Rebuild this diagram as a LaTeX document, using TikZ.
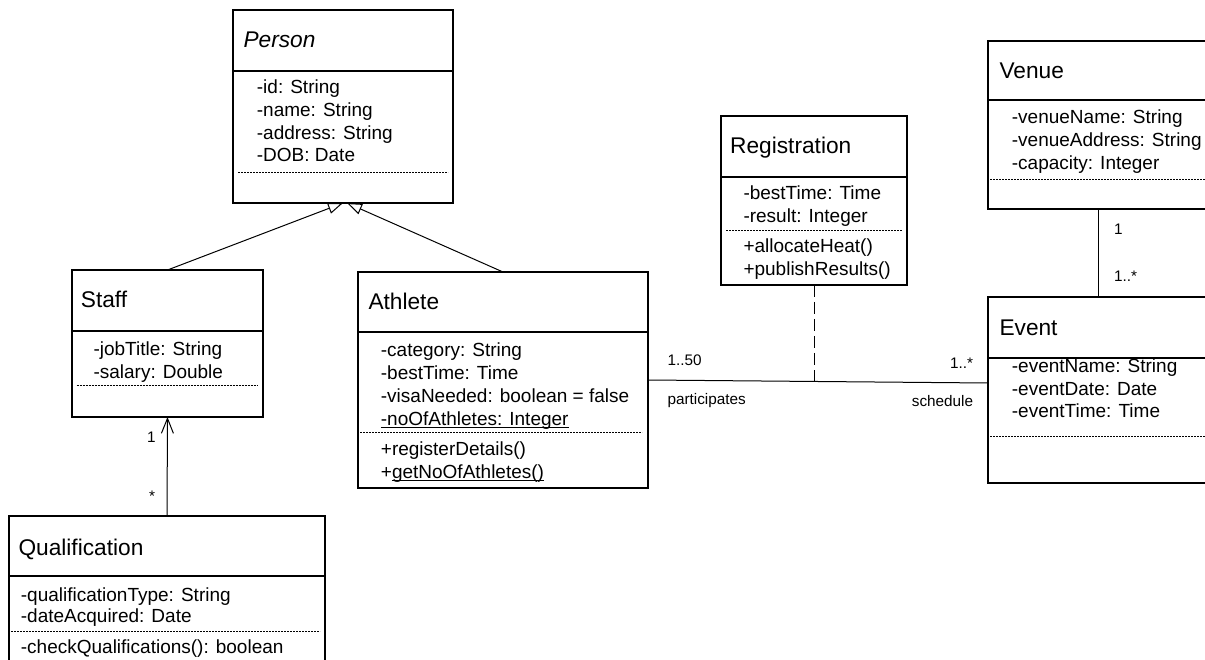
\documentclass[tikz,border=0pt]{standalone}
\usepackage{fontspec}
\setmainfont{Liberation Sans}
\usepackage{tikz}
\usetikzlibrary{positioning, arrows.meta}
\newcommand{\umlclass}[6]{
\node[classhead, minimum width=#4pt, minimum height=#5pt] (#1) at (#2,#3) {};
\node[classbody, minimum width=#4pt, minimum height=#6pt, below=0pt of #1] (#1-b) {};
}
\newcommand{\statictext}[1]{\underline{\smash{#1}}}

\begin{document}
\begin{tikzpicture}[x=1pt, y=-1pt,
    classhead/.style={draw, line width=1.3pt, rectangle, inner sep=0pt, outer sep=0pt, anchor=north west},
    classbody/.style={draw, line width=1.3pt, rectangle, inner sep=0pt, outer sep=0pt},
    ctitle/.style={inner sep=0pt, anchor=base west, font=\fontsize{22.7}{27}\selectfont},
    attr/.style={inner sep=0pt, anchor=base west, font=\fontsize{19}{23}\selectfont},
    mult/.style={inner sep=0pt, font=\fontsize{15.3}{18}\selectfont},
    sep/.style={line width=0.8pt, dash pattern=on 2pt off 1pt},
    gen/.style={line width=1pt, -{Triangle[open, length=15pt, width=11pt]}},
    nav/.style={line width=1pt, -{Straight Barb[length=15pt, width=12pt]}},
    regdash/.style={line width=1pt, dash pattern=on 12pt off 5pt}]
    \path[use as bounding box, fill=white] (0,0) rectangle (1205,660);
    \clip (0,0) rectangle (1205,660);

    \umlclass{person}{233}{10}{220}{61}{132}
    \umlclass{staff}{72}{270}{191}{61}{86}
    \umlclass{qual}{9}{516}{316}{60}{124}
    \umlclass{athlete}{358}{272}{290}{60}{156}
    \umlclass{reg}{721}{116}{186}{61}{108}
    \umlclass{venue}{988}{41}{220}{59}{109}
    \umlclass{event}{988}{297}{220}{61}{125}

    \node[ctitle] (person-t) at (243.3,47.5) {\itshape Person};
    \foreach \t [count=\i] in {-id: String, -name: String, -address: String, -DOB: Date}
        \node[attr] (person-a\i) at (256.7,{94+22.6*(\i-1)}) {\t};
    \draw[sep] (238,172) -- (448,172);

    \node[ctitle] (staff-t) at (80.7,308) {Staff};
    \foreach \t [count=\i] in {-jobTitle: String, -salary: Double}
        \node[attr] (staff-a\i) at (93.3,{355.5+22.5*(\i-1)}) {\t};
    \draw[sep] (76.7,385) -- (258,385);

    \node[ctitle] (qual-t) at (18.3,555) {Qualification};
    \foreach \t [count=\i] in {-qualificationType: String, -dateAcquired: Date}
        \node[attr] (qual-a\i) at (20.7,{601.7+21*(\i-1)}) {\t};
    \draw[sep] (8,631) -- (320,631);
    \node[attr] (qual-m1) at (20.7,653.3) {-checkQualifications(): boolean};

    \node[ctitle] (athlete-t) at (368.3,310) {Athlete};
    \foreach \t [count=\i] in {-category: String, -bestTime: Time, -visaNeeded: boolean = false, \statictext{-noOfAthletes: Integer}}
        \node[attr] (athlete-a\i) at (380.7,{356+23.3*(\i-1)}) {\t};
    \draw[sep] (360,432.7) -- (642,432.7);
    \foreach \t [count=\i] in {+registerDetails(), +\statictext{getNoOfAthletes()}}
        \node[attr] (athlete-m\i) at (380.7,{455+23.3*(\i-1)}) {\t};

    \node[ctitle] (reg-t) at (730,154) {Registration};
    \foreach \t [count=\i] in {-bestTime: Time, -result: Integer}
        \node[attr] (reg-a\i) at (743.3,{200+22.7*(\i-1)}) {\t};
    \draw[sep] (726,230.7) -- (902,230.7);
    \foreach \t [count=\i] in {+allocateHeat(), +publishResults()}
        \node[attr] (reg-m\i) at (743.3,{252.7+23.3*(\i-1)}) {\t};

    \node[ctitle] (venue-t) at (999.3,78.3) {Venue};
    \foreach \t [count=\i] in {-venueName: String, -venueAddress: String, -capacity: Integer}
        \node[attr] (venue-a\i) at (1011.7,{124+22.7*(\i-1)}) {\t};
    \draw[sep] (990,179.3) -- (1205,179.3);

    \node[ctitle] (event-t) at (999.3,336) {Event};
    \foreach \t [count=\i] in {-eventName: String, -eventDate: Date, -eventTime: Time}
        \node[attr] (event-a\i) at (1011.7,{372.7+22.3*(\i-1)}) {\t};
    \draw[sep] (990,436) -- (1205,436);

    \draw[gen] (staff.north) -- (person-b.south);
    \draw[gen] (athlete.north) -- ([xshift=4pt]person-b.south);

    \draw[nav] (qual.north) -- (staff-b.south);
    \node[mult, anchor=base west] (m-staff) at (147,442.7) {1};
    \node[mult, anchor=base west] (m-qual) at (149,501.5) {*};

    \draw[line width=1pt] ([yshift=-48pt]athlete-b.north east) -- coordinate[pos=0.487] (assoc) ([yshift=-25pt]event-b.north west);
    \draw[regdash] (reg-b.south) -- (reg-b.south |- assoc);
    \node[mult, anchor=base west] (m-ath) at (667.3,366) {1..50};
    \node[mult, anchor=base west] (r-ath) at (667.3,404) {participates};
    \node[mult, anchor=base east] (m-evt) at (973.3,368) {1..*};
    \node[mult, anchor=base east] (r-evt) at (973.3,406) {schedule};

    \draw[line width=1pt] (venue-b.south) -- (event.north);
    \node[mult, anchor=base west] (m-ven) at (1114,235) {1};
    \node[mult, anchor=base west] (m-evn) at (1114,281.7) {1..*};
\end{tikzpicture}
\end{document}
